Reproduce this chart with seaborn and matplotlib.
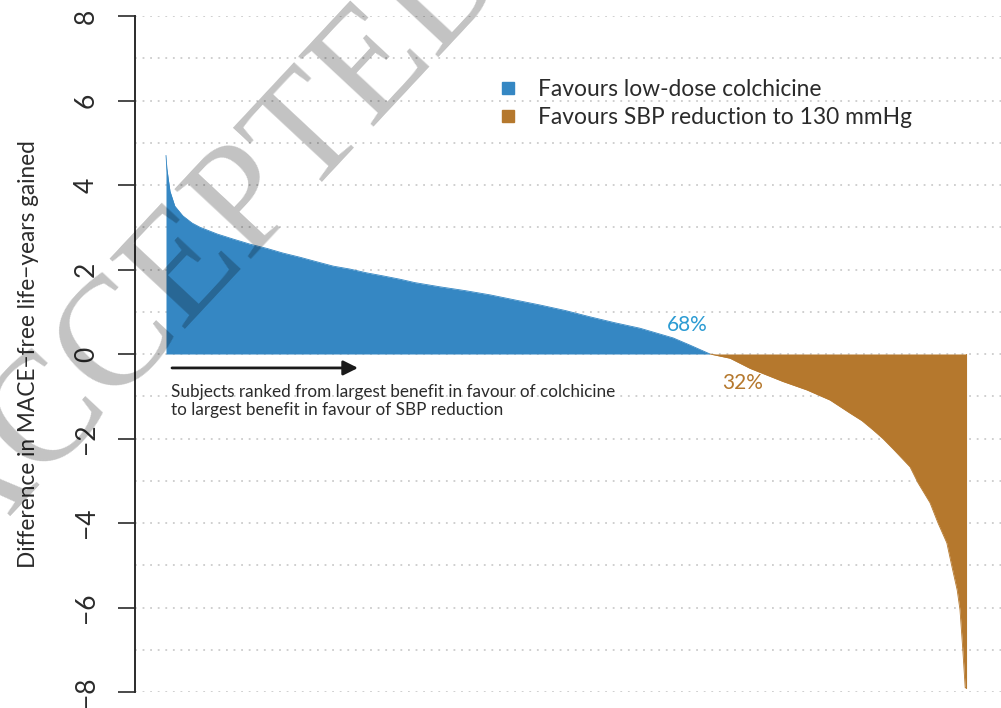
import numpy as np
import pandas as pd
import seaborn as sns
import matplotlib
matplotlib.use("Agg")
import matplotlib.pyplot as plt
from matplotlib.lines import Line2D

# Ranked subjects (percentile of cohort) and difference in MACE-free life-years
colchicine_rank = [0.0, 0.1, 0.3, 0.5, 1.1, 2.1, 3.25, 4.25, 6.4, 8.4, 10.5, 12.6,
                   14.6, 16.75, 18.9, 20.9, 23.0, 25.1, 27.1, 29.25, 31.1, 34.25, 37.4,
                   40.5, 43.6, 46.75, 49.9, 53.0, 56.1, 59.25, 63.4, 65.5, 68.0]
colchicine_diff = [4.70, 4.40, 4.12, 3.85, 3.50, 3.27, 3.10, 3.00, 2.84, 2.72, 2.60, 2.50,
                   2.39, 2.29, 2.18, 2.08, 2.01, 1.92, 1.85, 1.77, 1.69, 1.59, 1.50,
                   1.40, 1.28, 1.16, 1.03, 0.88, 0.74, 0.61, 0.38, 0.21, 0.0]

sbp_rank = [68.0, 70.5, 73.0, 77.1, 80.1, 83.0, 85.5, 87.0, 88.4, 89.6, 90.9, 93.0, 94.0,
            95.5, 96.5, 97.6, 98.25, 98.9, 99.25, 99.6, 99.9, 100.0]
sbp_diff = [0.0, -0.10, -0.34, -0.65, -0.85, -1.09, -1.40, -1.58, -1.80, -2.0, -2.25, -2.67,
            -3.05, -3.52, -4.00, -4.47, -5.04, -5.59, -6.06, -7.00, -7.90, -7.90]

share_labels = ["68%", "32%"]
legend_labels = ["Favours low-dose colchicine", "Favours SBP reduction to 130 mmHg"]
y_ticks = [-8, -6, -4, -2, 0, 2, 4, 6, 8]

BLUE = "#3587C3"
ORANGE = "#B5782D"
BLUE_TEXT = "#2B9BD3"
INK = "#2b2b2b"

sns.set_theme(style="white")
plt.rcParams["font.family"] = ["Lato", "DejaVu Sans"]
plt.rcParams["axes.unicode_minus"] = True

fig = plt.figure(figsize=(10.01, 7.08), dpi=100)
ax = fig.add_axes([135 / 1001, 16 / 708, 866 / 1001, 676 / 708])

df_c = pd.DataFrame({"rank": colchicine_rank, "diff": colchicine_diff})
df_s = pd.DataFrame({"rank": sbp_rank, "diff": sbp_diff})

sns.lineplot(data=df_c, x="rank", y="diff", color=BLUE, lw=0.6, ax=ax, zorder=3)
sns.lineplot(data=df_s, x="rank", y="diff", color=ORANGE, lw=0.6, ax=ax, zorder=3)
ax.fill_between(df_c["rank"], 0, df_c["diff"], color=BLUE, lw=0, zorder=3)
ax.fill_between(df_s["rank"], 0, df_s["diff"], color=ORANGE, lw=0, zorder=3)
ax.plot([100, 100], [0, sbp_diff[-1]], color=ORANGE, lw=0.8, zorder=3)

ax.set_xlim(-3.875, 104.375)
ax.set_ylim(-8, 8)
ax.set_xticks([])
ax.set_xlabel("")
ax.set_yticks(y_ticks)
ax.set_yticks(np.arange(-8, 9, 1), minor=True)
ax.yaxis.grid(True, which="both", color="#cccccc", linestyle=(0, (1, 3.2)), lw=1.3, zorder=0)
ax.xaxis.grid(False)
ax.set_axisbelow(True)

for side in ["top", "right", "bottom"]:
    ax.spines[side].set_visible(False)
ax.spines["left"].set_color(INK)
ax.spines["left"].set_linewidth(1.4)
ax.tick_params(axis="y", which="major", length=12, width=1.2, color=INK, pad=14,
               labelsize=19, labelcolor=INK, left=True)
ax.tick_params(axis="y", which="minor", length=0)
for lbl in ax.get_yticklabels():
    lbl.set_rotation(90)
    lbl.set_va("center")

ax.set_ylabel("Difference in MACE\u2212free life\u2212years gained", fontsize=16.3, color=INK)
ax.yaxis.set_label_coords(-96 / 866, 0.5)

# Direction-of-ranking arrow and caption
ax.annotate("", xy=(24.0, -0.33), xytext=(0.75, -0.33),
            arrowprops=dict(arrowstyle="-|>", color="#1a1a1a", lw=2, mutation_scale=22,
                            shrinkA=0, shrinkB=0))
ax.text(0.6, -0.90, "Subjects ranked from largest benefit in favour of colchicine",
        fontsize=12.3, color=INK, va="center", ha="left")
ax.text(0.6, -1.33, "to largest benefit in favour of SBP reduction",
        fontsize=12.3, color=INK, va="center", ha="left")

ax.text(67.75, 0.68, share_labels[0], color=BLUE_TEXT, fontsize=15, ha="right", va="center")
ax.text(69.5, -0.68, share_labels[1], color=ORANGE, fontsize=15, ha="left", va="center")

handles = [Line2D([], [], marker="s", ls="", markersize=9, color=c) for c in (BLUE, ORANGE)]
ax.legend(handles, legend_labels, loc="upper left", bbox_to_anchor=(497 / 1001, 1 - 79 / 708),
          bbox_transform=fig.transFigure, frameon=False, fontsize=16.4, labelcolor=INK,
          handletextpad=0.8, labelspacing=0.3, borderpad=0, borderaxespad=0,
          handlelength=1.0)

# Diagonal manuscript stamp across the figure
fig.text(-35 / 1001, 1 - 566 / 708, "ACCEPTED MANUSCRIPT", rotation=47,
         rotation_mode="anchor", ha="left", va="baseline", fontsize=112,
         family=["Liberation Serif", "DejaVu Serif"], color="black", alpha=0.24, zorder=10)

fig.savefig("out.png", dpi=100)
